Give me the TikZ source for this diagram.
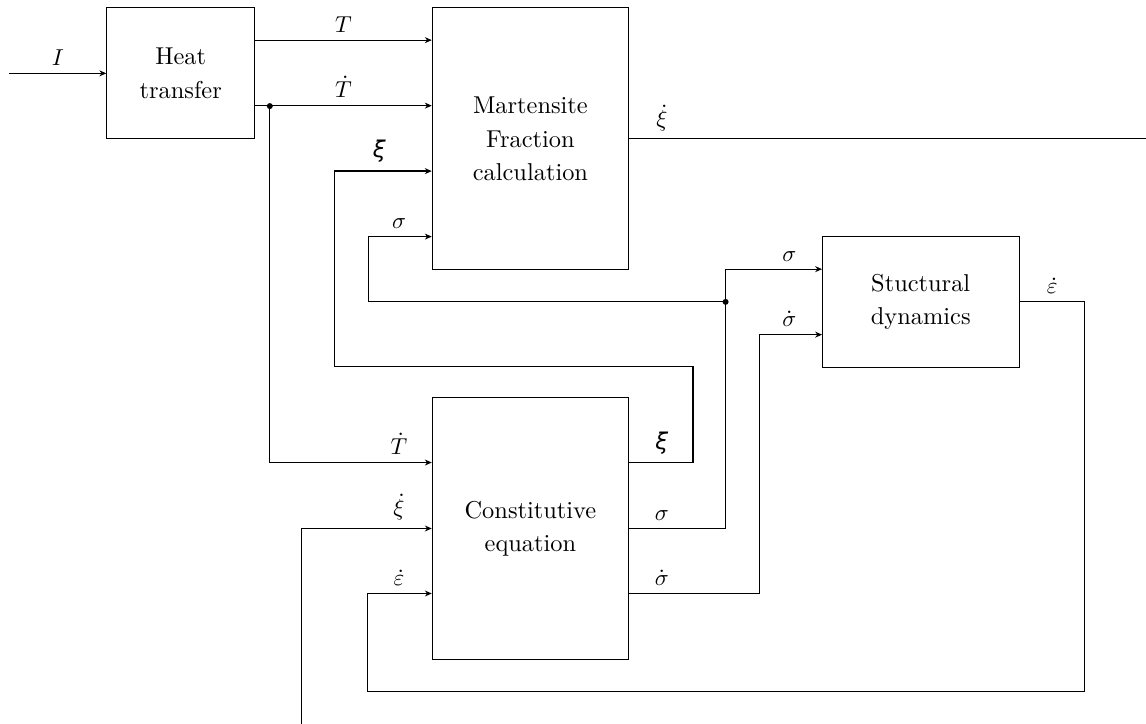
\documentclass[tikz,border=0pt]{standalone}
\usepackage{fontspec}
\newfontfamily\greekfont{DejaVu Sans}
\usepackage{tikz}
\usetikzlibrary{arrows.meta, positioning, calc}
\tikzset{
    block/.style={rectangle, draw, minimum width=3cm, minimum height=4cm, align=center, font=\fontsize{10.6pt}{14.4pt}\selectfont},
    smallblock/.style={block, minimum height=2cm},
    arrow/.style={->, >={Stealth[length=3pt, width=2.6pt]}},
    inlabel/.style={above, xshift=-0.5cm},
    outlabel/.style={above, xshift=0.5cm},
    junction/.style={circle, fill, inner sep=0pt, minimum size=2.6pt}
}

\begin{document}
\begin{tikzpicture}
        \useasboundingbox (0,0) rectangle (17.5,-11.05);

        % Blocks
        \node[smallblock, minimum width=2.26cm] (heat) at (2.76, -1.12) {Heat\\transfer};
        \node[block] (mart) at (8.1, -2.12) {Martensite\\Fraction\\calculation};
        \node[smallblock] (stru) at (14.06, -4.61) {Stuctural\\dynamics};
        \node[block] (cons) at (8.1, -8.07) {Constitutive\\equation};

        % Ports on the block sides
        \coordinate (mT) at ($(mart.north west)+(0,-0.5)$);
        \coordinate (mTd) at ($(mart.north west)+(0,-1.5)$);
        \coordinate (mXi) at ($(mart.north west)+(0,-2.5)$);
        \coordinate (mSig) at ($(mart.north west)+(0,-3.5)$);
        \coordinate (cTd) at ($(cons.north west)+(0,-1)$);
        \coordinate (cXid) at (cons.west);
        \coordinate (cEps) at ($(cons.north west)+(0,-3)$);
        \coordinate (cXi) at ($(cons.north east)+(0,-1)$);
        \coordinate (cSig) at (cons.east);
        \coordinate (cSigd) at ($(cons.north east)+(0,-3)$);
        \coordinate (sSig) at ($(stru.west)+(0,0.5)$);
        \coordinate (sSigd) at ($(stru.west)+(0,-0.5)$);

        % Free ends and corners
        \coordinate (Iin) at (0.14, -1.12);
        \coordinate (xidEnd) at (17.5, -2.12);
        \coordinate (xidStart) at (4.61, -11.05);
        \coordinate (xiR) at (10.58, -5.6);
        \coordinate (xiL) at (5.11, -5.6);
        \coordinate (sigL) at (5.62, -4.61);
        \coordinate (epsR) at (16.56, -10.56);

        % Branch points
        \node[junction] (tapT) at (4.12, -1.62) {};
        \node[junction] (tapSig) at (11.08, -4.61) {};

        % Heat transfer
        \draw[arrow] (Iin) -- node[above] {$I$} (heat);
        \draw[arrow] (heat.east |- mT) -- node[above] {$T$} (mT);
        \draw[arrow] (heat.east |- mTd) -- node[above] {$\dot T$} (mTd);
        \draw[arrow] (tapT.center) |- (cTd) node[inlabel] {$\dot T$};

        % Martensite fraction
        \draw (mart.east) node[outlabel] {$\dot\xi$} -- (xidEnd);
        \draw[arrow] (xidStart) |- (cXid) node[inlabel] {$\dot\xi$};
        \draw[arrow, semithick] (cXi) node[outlabel] {\greekfont\itshape ξ} -| (xiR) -- (xiL) |- (mXi) node[above, xshift=-0.8cm] {\greekfont\itshape ξ};

        % Stress paths
        \draw[arrow] (cSig) node[outlabel] {$\sigma$} -| (tapSig.center) |- (sSig) node[inlabel] {$\sigma$};
        \draw[arrow] (tapSig.center) -- (sigL) |- (mSig) node[inlabel] {$\sigma$};
        \draw[arrow] (cSigd) node[outlabel] {$\dot\sigma$} -| ([xshift=-0.96cm]sSigd) -- (sSigd) node[inlabel] {$\dot\sigma$};

        % Strain rate feedback
        \draw[arrow] (stru.east) node[outlabel] {$\dot\varepsilon$} -| (epsR) -| ([xshift=-0.98cm]cEps) -- (cEps) node[inlabel] {$\dot\varepsilon$};
\end{tikzpicture}
\end{document}
